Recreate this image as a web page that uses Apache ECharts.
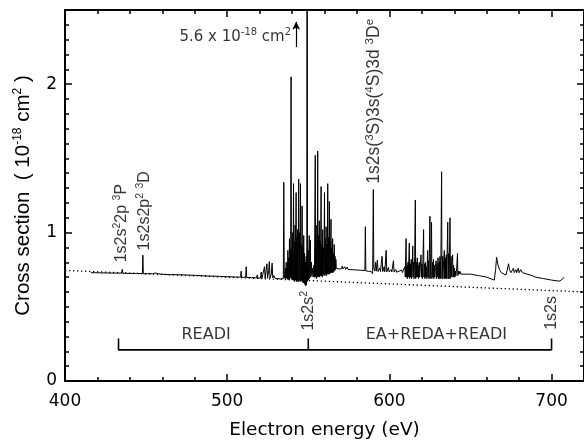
<!DOCTYPE html>
<html><head><meta charset="utf-8">
<script src="https://cdn.jsdelivr.net/npm/echarts@6/dist/echarts.min.js"></script>
<style>html,body{margin:0;padding:0;background:#fff}#c{width:584px;height:445px}</style>
</head><body><div id="c"></div>
<script>
// ---- axis ranges / ticks ----
const xRange = [400, 720];
const xMajor = 100, xMinor = 20;
const yRange = [0, 2.5];
const yMajor = 1, yMinor = 0.1;
const xTickLabels = ['400', '500', '600', '700'];
const yTickLabels = ['0', '1', '2'];

// ---- measured spectrum (energy eV, cross section 1e-18 cm^2) ----
const spectrumA = [
 [416,0.730],[420,0.729],[425,0.728],[430,0.727],[434.9,0.727],[435.3,0.752],[435.7,0.726],[440,0.725],[444,0.725],
 [447.7,0.724],[448,0.848],[448.3,0.722],[451,0.723],[454,0.722],[455.5,0.728],[456,0.720],[458,0.722],[460,0.719],
 [465,0.717],[470,0.716],[475,0.714],[480,0.712],[485,0.709],[490,0.707],[495,0.705],[500,0.703],[505,0.701],
 [508.3,0.700],[508.6,0.740],[508.9,0.699],[511.4,0.699],[511.7,0.770],[512,0.698],[515,0.697],[518,0.695],
 [518.6,0.715],[519,0.692],[520.5,0.695],[521,0.735],[521.4,0.690],[522.6,0.700],[523,0.770],[523.4,0.692],
 [524,0.705],[524.5,0.790],[524.9,0.693],[525.6,0.745],[526,0.805],[526.4,0.692],[527.2,0.720],[527.7,0.795],
 [528.1,0.695],[528.8,0.710],[529.5,0.692],[531,0.690],[533,0.688],[534.6,0.690],[534.9,1.34],[535.2,0.692]
];
const spectrumB = [
 [535.6,0.700],[535.9,0.760],[536.1,0.690],[536.4,0.800],[536.6,0.695],[536.9,0.760],[537.1,0.685],[537.4,0.880],
 [537.6,0.690],[537.9,0.830],[538.1,0.680],[538.4,0.960],[538.6,0.690],[538.9,0.880],[539.1,0.700],[539.4,2.05],
 [539.6,0.690],[539.9,0.900],[540.1,0.680],[540.4,1.000],[540.6,0.690],[540.9,1.33],[541.1,0.680],[541.4,0.940],
 [541.6,0.670],[541.9,1.050],[542.1,0.680],[542.5,1.27],[542.7,0.670],[543,0.970],[543.2,0.680],[543.5,1.020],
 [543.7,0.670],[544.1,1.36],[544.3,0.670],[544.6,1.000],[544.8,0.680],[545.2,1.33],[545.4,0.670],[545.7,0.920],
 [545.9,0.680],[546.2,1.18],[546.4,0.670],[546.7,0.900],[546.9,0.660],[547.2,0.980],[547.4,0.660],[547.7,0.860],
 [547.9,0.650],[548.2,0.800],[548.4,0.640],[548.7,0.840],[548.9,0.650],[549.1,0.900],[549.3,5.6],[549.5,0.670],
 [549.9,0.880],[550.1,0.680],[550.6,0.980],[550.8,0.690],[551.3,0.950],[551.5,0.700],[552,0.800],[552.2,0.710],
 [552.7,0.760],[553,0.700],[553.5,0.780],[553.8,0.700],[554.3,1.52],[554.5,0.700],[554.8,0.950],[555,0.690],
 [555.3,1.050],[555.5,0.700],[555.8,1.55],[556,0.700],[556.3,0.980],[556.5,0.710],[556.8,1.080],[557,0.700],
 [557.3,0.940],[557.5,0.710],[557.9,1.31],[558.1,0.710],[558.4,0.920],[558.6,0.700],[558.9,1.020],[559.1,0.710],
 [559.4,0.900],[559.6,0.720],[560,1.27],[560.2,0.710],[560.5,0.960],[560.7,0.720],[561,1.040],[561.2,0.710],
 [561.5,0.920],[561.7,0.720],[562,1.33],[562.2,0.720],[562.5,0.970],[562.7,0.720],[563,1.21],[563.2,0.720],
 [563.5,0.940],[563.7,0.730],[564,1.09],[564.2,0.730],[564.5,0.900],[564.7,0.730],[565,0.960],[565.2,0.730],
 [565.5,0.860],[565.7,0.740],[566,0.920],[566.2,0.740],[566.5,0.840],[566.7,0.750],[567,0.820],[567.3,0.760]
];
const spectrumC = [
 [567.6,0.760],[569,0.755],[570.5,0.757],[571,0.775],[571.4,0.755],[572.5,0.770],[573,0.752],[574,0.768],
 [574.5,0.752],[577,0.750],[580,0.748],[583,0.746],[584.9,0.744],[585.2,1.04],[585.5,0.742],[587,0.740],
 [589,0.736],[589.7,0.722],[590.1,1.29],[590.4,0.760],[591,0.742],[591.5,0.800],[591.9,0.740],[592.6,0.815],
 [593,0.738],[594,0.760],[594.5,0.738],[595.5,0.840],[595.9,0.737],[596.8,0.770],[597.2,0.736],[598,0.880],
 [598.4,0.736],[599.4,0.765],[599.8,0.735],[601,0.750],[601.5,0.734],[602.5,0.810],[602.9,0.734],[604,0.752],
 [604.4,0.733],[606,0.740],[606.4,0.732],[607.5,0.748],[608,0.731],[609,0.730],[609.5,0.770],[609.8,0.700],
 [610.3,0.960],[610.5,0.700],[610.9,0.780],[611.1,0.690],[611.5,0.800],[611.7,0.700],[612.3,0.930],[612.5,0.690],
 [612.9,0.790],[613.1,0.700],[613.5,0.820],[613.7,0.690],[614.1,0.760],[614.4,0.910],[614.6,0.700],[615,0.800],
 [615.2,0.690],[615.6,0.840],[616,1.22],[616.2,0.690],[616.6,0.800],[616.8,0.700],[617.2,0.830],[617.4,0.700],
 [617.8,0.780],[618,0.690],[618.4,0.800],[618.6,0.700],[619,0.760],[619.5,0.850],[619.7,0.700],[620.1,0.790],
 [620.3,0.690],[620.7,0.820],[621.1,1.02],[621.3,0.700],[621.7,0.790],[621.9,0.690],[622.3,0.800],[622.5,0.700],
 [622.9,0.770],[623.1,0.690],[623.6,0.880],[623.8,0.700],[624.2,0.810],[624.4,0.690],[625,1.11],[625.2,0.690],
 [625.6,0.840],[626,1.07],[626.2,0.690],[626.6,0.800],[626.8,0.700],[627.2,0.820],[627.4,0.690],[627.8,0.780],
 [628,0.700],[628.4,0.770],[628.8,0.810],[629,0.690],[629.4,0.790],[629.6,0.700],[630,0.830],[630.2,0.690],
 [630.6,0.800],[630.8,0.690],[631.2,0.840],[631.4,0.690],[631.8,0.860],[632.2,1.41],[632.4,0.690],[632.8,0.840],
 [633,0.690],[633.5,0.820],[633.9,0.880],[634.1,0.690],[634.5,0.830],[634.7,0.690],[635.1,0.850],[635.3,0.690],
 [636,1.07],[636.2,0.690],[636.6,0.860],[636.8,0.690],[637.4,1.10],[637.6,0.690],[638,0.840],[638.2,0.700],
 [638.6,0.800],[639,0.850],[639.2,0.700],[639.6,0.780],[639.8,0.700],[640.2,0.760],[640.4,0.700],[640.8,0.740],
 [641,0.710],[641.5,0.760],[642,0.860],[642.2,0.710],[642.6,0.740],[643,0.720],[643.5,0.740],[644,0.720]
];
const spectrumD = [
 [645,0.725],[648,0.720],[650,0.720],[655,0.710],[660,0.700],[664.7,0.680],[665.5,0.750],[666.1,0.833],
 [667,0.780],[668,0.750],[669,0.730],[670,0.720],[671.9,0.714],[673,0.720],[673.5,0.790],[674,0.750],
 [675,0.730],[676,0.740],[676.5,0.760],[677,0.730],[678,0.750],[678.5,0.730],[679.5,0.760],[680,0.730],
 [681,0.750],[682,0.730],[683,0.740],[685,0.720],[688,0.710],[690,0.700],[695,0.690],[700,0.680],
 [704.7,0.673],[706,0.680],[707.8,0.700]
];
// dotted background line
const background = [[400, 0.745], [720, 0.600]];
// bracket (READI / EA+REDA+READI)
const bracket = [[433,0.286],[433,0.21],[550,0.21],[550,0.286],[550,0.21],[700,0.21],[700,0.286]];
// arrow for off-scale peak
const arrowFrom = [542.5, 2.25], arrowTo = [542.5, 2.42];
// rotated annotations: text, anchor (energy, value)
const rotTexts = ['1s2s{s|2}2p {s|3}P', '1s2s2p{s|2} {s|3}D', '1s2s({s|3}S)3s({s|4}S)3d {s|3}D{s|e}', '1s2s{s|2}', '1s2s'];
const rotAnchors = [[435, 0.80], [449, 0.88], [590.5, 1.33], [550, 0.34], [700, 0.345]];
// horizontal annotations
const horTexts = ['READI', 'EA+REDA+READI', '5.6 x 10{s|-18} cm{s|2}'];
const horAnchors = [[487, 0.245], [629, 0.245], [539.4, 2.25]];
const horAlign = ['center', 'center', 'right'];

const spectrum = spectrumA.concat(spectrumB, spectrumC, spectrumD);

const HF = 'DejaVu Sans', VF = 'Liberation Sans';
const gridRect = {left: 65, top: 10, width: 520, height: 371};

function xAx(gi, pos, interval, len, main) {
  return {
    type: 'value', gridIndex: gi, position: pos, min: xRange[0], max: xRange[1], interval: interval,
    axisLine: {show: main, onZero: false, lineStyle: {color: '#000', width: 2}},
    axisTick: {show: true, inside: true, length: len, lineStyle: {color: '#000', width: 1.5}},
    axisLabel: {show: main && pos === 'bottom' && len > 5, margin: 12, color: '#000', fontFamily: HF, fontSize: 17,
      showMaxLabel: false,
      formatter: v => xTickLabels.indexOf(String(v)) >= 0 ? String(v) : ''},
    splitLine: {show: false},
    name: (main && pos === 'bottom' && len > 5) ? 'Electron energy (eV)' : '',
    nameLocation: 'middle', nameGap: 40,
    nameTextStyle: {color: '#000', fontFamily: HF, fontSize: 18.5}
  };
}
function yAx(gi, pos, interval, len, main) {
  const lab = main && pos === 'left' && len > 5;
  return {
    type: 'value', gridIndex: gi, position: pos, min: yRange[0], max: yRange[1], interval: interval,
    axisLine: {show: main, onZero: false, lineStyle: {color: '#000', width: 2}},
    axisTick: {show: true, inside: true, length: len, lineStyle: {color: '#000', width: 1.5}},
    axisLabel: {show: lab, margin: 8, color: '#000', fontFamily: HF, fontSize: 17, showMaxLabel: false,
      formatter: v => yTickLabels.indexOf(String(v)) >= 0 ? String(v) : ''},
    splitLine: {show: false},
    name: lab ? 'Cross section  ( 10{s|-18} cm{s|2} )' : '',
    nameLocation: 'middle', nameGap: 28,
    nameTextStyle: {color: '#000', fontFamily: VF, fontSize: 20.5, lineHeight: 24,
      rich: {s: {fontSize: 12, fontFamily: VF, color: '#000', verticalAlign: 'top', lineHeight: 12}}}
  };
}

const supRichV = {s: {fontSize: 10.5, fontFamily: VF, color: '#000', verticalAlign: 'top', lineHeight: 10}};
const supRichV2 = {s: {fontSize: 11.5, fontFamily: VF, color: '#000', verticalAlign: 'top', lineHeight: 11}};
const supRichH = {s: {fontSize: 10, fontFamily: HF, color: '#000', verticalAlign: 'top', lineHeight: 10}};

const chart = echarts.init(document.getElementById('c'), null, {renderer: 'canvas'});
chart.setOption({
  animation: false,
  backgroundColor: '#fff',
  grid: [Object.assign({}, gridRect), Object.assign({}, gridRect)],
  xAxis: [xAx(0, 'bottom', xMajor, 7, true), xAx(0, 'top', xMajor, 7, true),
          xAx(1, 'bottom', xMinor, 4, false), xAx(1, 'top', xMinor, 4, false)],
  yAxis: [yAx(0, 'left', yMajor, 7, true), yAx(0, 'right', yMajor, 7, true),
          yAx(1, 'left', yMinor, 4, false), yAx(1, 'right', yMinor, 4, false)],
  series: [
    {type: 'line', xAxisIndex: 0, yAxisIndex: 0, data: background, symbol: 'none', silent: true,
     lineStyle: {color: '#000', width: 1.3, type: [1.3, 2.7]},
     markLine: {silent: true, symbol: ['none', 'arrow'], symbolSize: [6, 8], label: {show: false},
       lineStyle: {color: '#000', width: 1.2, type: 'solid'},
       data: [[{coord: arrowFrom}, {coord: arrowTo}]]}},
    {type: 'line', xAxisIndex: 0, yAxisIndex: 0, data: spectrum, symbol: 'none', silent: true,
     sampling: null, lineStyle: {color: '#000', width: 1}},
    {type: 'line', xAxisIndex: 0, yAxisIndex: 0, data: bracket, symbol: 'none', silent: true,
     lineStyle: {color: '#000', width: 1.6}},
    {type: 'scatter', xAxisIndex: 0, yAxisIndex: 0, symbolSize: 0.1, silent: true,
     itemStyle: {color: 'transparent'},
     data: rotTexts.map((t, i) => (i === 2
       ? {value: rotAnchors[i], name: t, label: {fontSize: 17.5, rich: supRichV2}}
       : {value: rotAnchors[i], name: t})),
     label: {show: true, position: 'inside', rotate: 90, align: 'left', verticalAlign: 'middle',
       formatter: p => p.name, color: '#000', fontFamily: VF, fontSize: 16, lineHeight: 20, rich: supRichV}},
    {type: 'scatter', xAxisIndex: 0, yAxisIndex: 0, symbolSize: 0.1, silent: true,
     itemStyle: {color: 'transparent'},
     data: horTexts.map((t, i) => ({value: horAnchors[i], name: t,
       label: {align: horAlign[i], fontSize: i === 2 ? 15 : 16}})),
     label: {show: true, position: 'inside', align: 'center', verticalAlign: 'bottom',
       formatter: p => p.name, color: '#000', fontFamily: HF, fontSize: 16, lineHeight: 20, rich: supRichH}}
  ]
});
</script></body></html>
